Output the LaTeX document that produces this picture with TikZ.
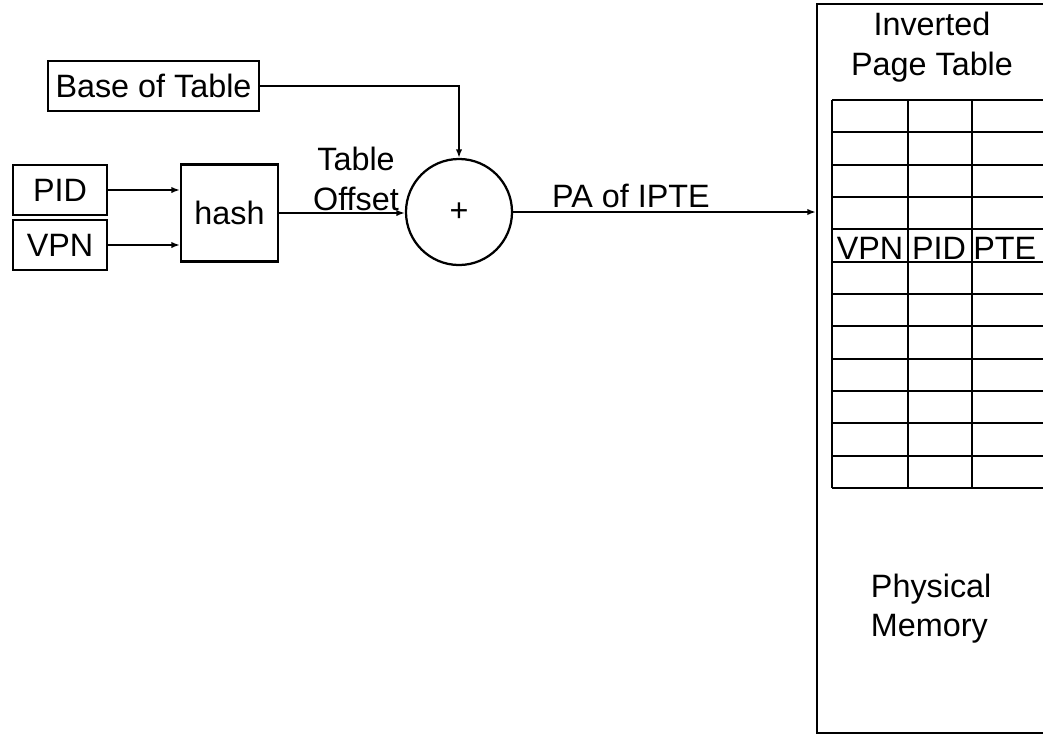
\documentclass[tikz,border=0pt]{standalone}
\usepackage{fontspec}
\setmainfont{Liberation Sans}
\usetikzlibrary{arrows.meta}

\begin{document}
\begin{tikzpicture}[
        font=\fontsize{23}{28}\selectfont,
        x=0.025cm, y=-0.025cm,
        inbox/.style  ={draw, line width=1.6pt, inner sep=0pt, minimum height=1.25cm},
        hashbox/.style={draw, line width=1.6pt, inner sep=0pt, minimum size=2.425cm},
        adder/.style  ={draw, circle, line width=1.6pt, inner sep=0pt, minimum size=2.65cm},
        membox/.style ={draw, line width=1.6pt, inner sep=0pt, minimum width=6.575cm,
                        minimum height=18.225cm},
        cell/.style   ={inner sep=0pt},
        arr/.style    ={-{Latex[length=6pt,width=4.5pt]}, line width=1.4pt},
    ]
    \useasboundingbox (0,0) rectangle (1043,736);
    \clip (0,0) rectangle (1043,736);

    %% Inputs
    \node[inbox, minimum width=5.275cm] (base) at (153.5, 86)  {Base of Table};
    \node[inbox, minimum width=2.35cm]  (pid)  at (60, 190)    {PID};
    \node[inbox, minimum width=2.35cm]  (vpn)  at (60, 245)    {VPN};

    %% Hash and adder
    \node[hashbox] (hash) at (229.5, 213) {hash};
    \node[adder]   (plus) at (459, 212)   {+};

    %% Physical memory with the inverted page table
    \node[membox] (mem) at (948.5, 368.5) {};
    \node[align=center] (ipt) at (932, 47) {Inverted\\Page Table};
    \node[align=left, anchor=north west] (phys) at (866, 569) {Physical\\Memory};

    %% Table grid: 12 rows, 3 columns
    \foreach \r in {0,...,12}
        \draw[line width=1.6pt] (832, 100 + \r*32.33) -- (1060, 100 + \r*32.33);
    \foreach \c in {832, 908, 972}
        \draw[line width=1.6pt] (\c, 100) -- (\c, 488);

    %% Marked entry
    \node[cell, anchor=base]      (evpn) at (870, 259) {VPN};
    \node[cell, anchor=base]      (epid) at (939, 259) {PID};
    \node[cell, anchor=base west] (epte) at (973, 259) {PTE};

    %% Connectors
    \draw[arr] (pid.east) -- (pid.east -| hash.west);
    \draw[arr] (vpn.east) -- (vpn.east -| hash.west);
    \draw[arr] (hash.east) -- (hash.east -| plus.west);
    \draw[arr] (base.east) -| (plus.north);
    \draw[arr] (plus.east) -- (plus.east -| mem.west);

    %% Connector labels
    \node[align=center] (offset) at (356, 179) {Table\\Offset};
    \node[anchor=base]  (pa)     at (631, 207) {PA of IPTE};

\end{tikzpicture}
\end{document}
